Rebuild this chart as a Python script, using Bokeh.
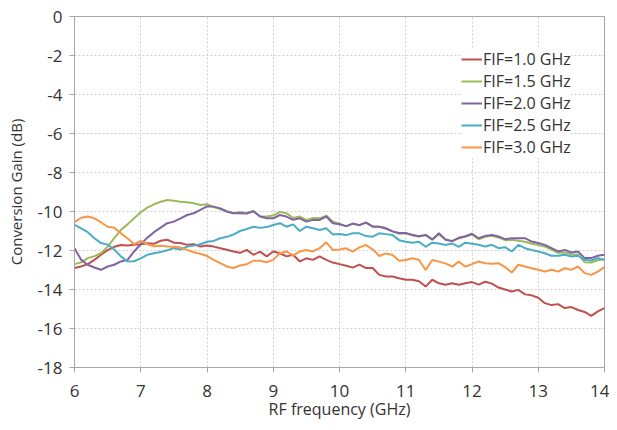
from bokeh.plotting import figure
from bokeh.models import Legend, LegendItem, FixedTicker, Range1d, PrintfTickFormatter
from bokeh.embed import file_html
from bokeh.resources import INLINE

freq = [6.0, 6.1, 6.2, 6.3, 6.4, 6.5, 6.6, 6.7, 6.8, 6.9,
        7.0, 7.1, 7.2, 7.3, 7.4, 7.5, 7.6, 7.7, 7.8, 7.9,
        8.0, 8.1, 8.2, 8.3, 8.4, 8.5, 8.6, 8.7, 8.8, 8.9,
        9.0, 9.1, 9.2, 9.3, 9.4, 9.5, 9.6, 9.7, 9.8, 9.9,
        10.0, 10.1, 10.2, 10.3, 10.4, 10.5, 10.6, 10.7, 10.8, 10.9,
        11.0, 11.1, 11.2, 11.3, 11.4, 11.5, 11.6, 11.7, 11.8, 11.9,
        12.0, 12.1, 12.2, 12.3, 12.4, 12.5, 12.6, 12.7, 12.8, 12.9,
        13.0, 13.1, 13.2, 13.3, 13.4, 13.5, 13.6, 13.7, 13.8, 13.9,
        14.0]

fif_10 = [-12.90, -12.82, -12.70, -12.48, -12.22, -11.98, -11.81, -11.72, -11.74, -11.70,
          -11.68, -11.63, -11.66, -11.50, -11.45, -11.60, -11.62, -11.71, -11.68, -11.80,
          -11.74, -11.80, -11.88, -11.96, -12.05, -12.12, -11.97, -12.22, -12.06, -12.30,
          -12.05, -12.14, -12.30, -12.22, -12.56, -12.40, -12.48, -12.30, -12.48, -12.62,
          -12.70, -12.78, -12.88, -12.72, -12.90, -12.90, -13.25, -13.33, -13.33, -13.42,
          -13.50, -13.50, -13.58, -13.85, -13.50, -13.68, -13.76, -13.68, -13.76, -13.68,
          -13.62, -13.75, -13.60, -13.70, -13.90, -14.00, -14.10, -14.02, -14.25, -14.30,
          -14.42, -14.70, -14.80, -14.75, -14.95, -14.90, -15.05, -15.15, -15.35, -15.12,
          -14.95]

fif_15 = [-12.70, -12.61, -12.39, -12.29, -12.14, -11.80, -11.37, -10.95, -10.66, -10.35,
          -10.04, -9.80, -9.63, -9.50, -9.41, -9.45, -9.50, -9.53, -9.58, -9.67,
          -9.63, -9.77, -9.87, -10.00, -10.09, -10.02, -10.09, -9.97, -10.24, -10.26,
          -10.21, -10.02, -10.09, -10.33, -10.26, -10.43, -10.33, -10.35, -10.21, -10.52,
          -10.62, -10.76, -10.63, -10.70, -10.56, -10.76, -10.78, -10.85, -11.02, -11.14,
          -11.12, -11.22, -11.28, -11.20, -11.42, -11.16, -11.42, -11.52, -11.38, -11.29,
          -11.18, -11.42, -11.30, -11.25, -11.33, -11.47, -11.45, -11.50, -11.55, -11.65,
          -11.72, -11.80, -11.95, -12.12, -12.10, -12.20, -12.20, -12.60, -12.62, -12.50,
          -12.45]

fif_20 = [-11.88, -12.48, -12.73, -12.87, -12.99, -12.82, -12.73, -12.56, -12.48, -12.05,
          -11.68, -11.34, -11.06, -10.83, -10.60, -10.52, -10.35, -10.18, -10.09, -9.92,
          -9.74, -9.75, -9.84, -10.00, -10.09, -10.09, -10.10, -9.99, -10.26, -10.35,
          -10.35, -10.18, -10.26, -10.43, -10.35, -10.52, -10.43, -10.43, -10.26, -10.60,
          -10.65, -10.75, -10.62, -10.70, -10.57, -10.78, -10.78, -10.87, -11.02, -11.10,
          -11.10, -11.20, -11.27, -11.20, -11.45, -11.12, -11.45, -11.52, -11.35, -11.27,
          -11.14, -11.37, -11.25, -11.20, -11.28, -11.42, -11.37, -11.37, -11.37, -11.54,
          -11.62, -11.71, -11.88, -12.05, -11.97, -12.10, -12.05, -12.39, -12.39, -12.27,
          -12.22]

fif_25 = [-10.68, -10.86, -11.06, -11.37, -11.62, -11.70, -11.95, -12.30, -12.56, -12.55,
          -12.40, -12.22, -12.14, -12.08, -11.99, -11.88, -11.95, -11.80, -11.75, -11.68,
          -11.55, -11.51, -11.37, -11.30, -11.18, -11.00, -10.90, -10.78, -10.84, -10.80,
          -10.69, -10.60, -10.78, -10.66, -11.00, -10.78, -10.86, -10.95, -10.86, -11.18,
          -11.15, -11.21, -11.12, -11.12, -11.26, -11.29, -11.12, -11.16, -11.21, -11.47,
          -11.55, -11.60, -11.55, -11.81, -11.60, -11.64, -11.72, -11.64, -11.81, -11.60,
          -11.65, -11.71, -11.79, -11.71, -11.88, -11.83, -12.05, -11.71, -11.88, -11.97,
          -12.05, -12.14, -12.27, -12.27, -12.22, -12.31, -12.27, -12.48, -12.51, -12.39,
          -12.48]

fif_30 = [-10.55, -10.32, -10.26, -10.35, -10.55, -10.78, -10.83, -11.12, -11.37, -11.68,
          -11.51, -11.68, -11.78, -11.76, -11.80, -11.81, -11.85, -11.97, -12.09, -12.17,
          -12.28, -12.48, -12.65, -12.82, -12.90, -12.77, -12.70, -12.53, -12.53, -12.60,
          -12.48, -12.14, -12.05, -12.26, -12.05, -11.97, -12.05, -11.88, -11.58, -11.97,
          -11.95, -11.89, -12.06, -11.84, -11.72, -11.94, -12.28, -12.15, -12.23, -12.52,
          -12.49, -12.40, -12.49, -13.00, -12.49, -12.57, -12.66, -12.83, -12.57, -12.83,
          -12.70, -12.56, -12.65, -12.68, -12.65, -12.85, -13.13, -12.73, -12.82, -12.91,
          -12.99, -13.08, -12.99, -13.08, -12.91, -12.99, -12.82, -13.16, -13.25, -13.08,
          -12.85]

labels = ["FIF=1.0 GHz", "FIF=1.5 GHz", "FIF=2.0 GHz", "FIF=2.5 GHz", "FIF=3.0 GHz"]
series = [fif_10, fif_15, fif_20, fif_25, fif_30]
colors = ["#c0504d", "#9bbb59", "#8064a2", "#4bacc6", "#f79646"]

x_ticks = [6, 7, 8, 9, 10, 11, 12, 13, 14]
y_ticks = [0, -2, -4, -6, -8, -10, -12, -14, -16, -18]

FONT = "Open Sans"
TXT = "#333333"
AX = "#a6a6a6"

p = figure(width=609, height=422, output_backend="svg", toolbar_location=None,
           x_range=Range1d(6, 14), y_range=Range1d(-18, 0),
           min_border_left=74, min_border_right=5, min_border_top=16, min_border_bottom=55)

p.background_fill_color = "white"
p.border_fill_color = "white"
p.outline_line_color = AX
p.outline_line_width = 1

p.xaxis.ticker = FixedTicker(ticks=x_ticks)
p.yaxis.ticker = FixedTicker(ticks=y_ticks)
p.xaxis.formatter = PrintfTickFormatter(format="%d")
p.yaxis.formatter = PrintfTickFormatter(format="%d")
p.xaxis.minor_tick_line_color = None
p.yaxis.minor_tick_line_color = None

for ax in (p.xaxis, p.yaxis):
    ax.axis_line_color = AX
    ax.major_tick_line_color = AX
    ax.major_tick_in = 0
    ax.major_tick_out = 5
    ax.major_label_text_font = FONT
    ax.major_label_text_font_size = "17px"
    ax.major_label_text_color = TXT
    ax.axis_label_text_font = FONT
    ax.axis_label_text_color = TXT
    ax.axis_label_text_font_style = "normal"

p.xaxis.axis_label = "RF frequency (GHz)"
p.yaxis.axis_label = "Conversion Gain (dB)"
p.xaxis.axis_label_text_font_size = "16px"
p.yaxis.axis_label_text_font_size = "15px"
p.xaxis.major_label_standoff = 12
p.yaxis.major_label_standoff = 7
p.xaxis.axis_label_standoff = -2
p.yaxis.axis_label_standoff = 9

p.xgrid.grid_line_color = "#cfcfcf"
p.ygrid.grid_line_color = "#cfcfcf"
p.xgrid.grid_line_dash = "2 2"
p.ygrid.grid_line_dash = "2 2"
p.xgrid.grid_line_width = 1
p.ygrid.grid_line_width = 1

items = []
for lab, ys, c in zip(labels, series, colors):
    r = p.line(freq, ys, line_color=c, line_width=2)
    items.append(LegendItem(label=lab, renderers=[r]))

legend = Legend(items=items, location=(387, 209))
legend.margin = 0
legend.label_text_font = FONT
legend.label_text_font_size = "16px"
legend.label_text_color = TXT
legend.glyph_width = 21
legend.glyph_height = 20
legend.label_standoff = 1
legend.spacing = 0
legend.padding = 5
legend.border_line_color = None
legend.background_fill_color = "white"
legend.background_fill_alpha = 1.0
p.add_layout(legend)

open("out.html", "w").write(file_html(p, INLINE))
